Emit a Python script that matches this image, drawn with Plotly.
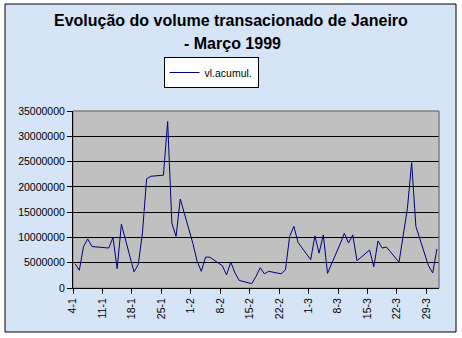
import pandas as pd
import plotly.graph_objects as go

# ---- data ----
dates = [
    "1999-01-04", "1999-01-05", "1999-01-06", "1999-01-07", "1999-01-08",
    "1999-01-11", "1999-01-12", "1999-01-13", "1999-01-14", "1999-01-15",
    "1999-01-18", "1999-01-19", "1999-01-20", "1999-01-21", "1999-01-22",
    "1999-01-25", "1999-01-26", "1999-01-27", "1999-01-28", "1999-01-29",
    "1999-02-01", "1999-02-02", "1999-02-03", "1999-02-04", "1999-02-05",
    "1999-02-08", "1999-02-09", "1999-02-10", "1999-02-11", "1999-02-12",
    "1999-02-15", "1999-02-16", "1999-02-17", "1999-02-18", "1999-02-19",
    "1999-02-22", "1999-02-23", "1999-02-24", "1999-02-25", "1999-02-26",
    "1999-03-01", "1999-03-02", "1999-03-03", "1999-03-04", "1999-03-05",
    "1999-03-08", "1999-03-09", "1999-03-10", "1999-03-11", "1999-03-12",
    "1999-03-15", "1999-03-16", "1999-03-17", "1999-03-18", "1999-03-19",
    "1999-03-22", "1999-03-23", "1999-03-24", "1999-03-25", "1999-03-26",
    "1999-03-29", "1999-03-30", "1999-03-31",
]

vl_acumul = [
    4800000, 3500000, 8200000, 9700000, 8200000,
    8000000, 7900000, 10000000, 3800000, 12600000,
    3200000, 4600000, 10800000, 21600000, 22100000,
    22300000, 32900000, 12800000, 10200000, 17600000,
    8800000, 5300000, 3300000, 6100000, 6100000,
    4400000, 2600000, 5100000, 3000000, 1500000,
    850000, 2300000, 4000000, 2800000, 3300000,
    2800000, 3600000, 10200000, 12200000, 9000000,
    5600000, 10300000, 6900000, 10500000, 2900000,
    8700000, 10800000, 8900000, 10500000, 5400000,
    7500000, 4200000, 9300000, 7900000, 8100000,
    5100000, 10200000, 15800000, 24800000, 12200000,
    4400000, 3000000, 7700000,
]

tick_dates = [
    "1999-01-04", "1999-01-11", "1999-01-18", "1999-01-25", "1999-02-01",
    "1999-02-08", "1999-02-15", "1999-02-22", "1999-03-01", "1999-03-08",
    "1999-03-15", "1999-03-22", "1999-03-29",
]
tick_labels = ["4-1", "11-1", "18-1", "25-1", "1-2", "8-2", "15-2", "22-2",
               "1-3", "8-3", "15-3", "22-3", "29-3"]

series_name = "vl.acumul."
title_line1 = "Evolução do volume transacionado de Janeiro"
title_line2 = "- Março 1999"

# ---- figure ----
W, H = 462, 338
L, R, T, B = 73, 23, 111, 50
pw, ph = W - L - R, H - T - B


def px_x(x):
    return (x - L) / pw


def px_y(y):
    return (H - B - y) / ph


FONT = "Arial, 'Liberation Sans', sans-serif"

fig = go.Figure()
fig.add_trace(go.Scatter(
    x=pd.to_datetime(dates),
    y=vl_acumul,
    mode="lines",
    name=series_name,
    line=dict(color="#000080", width=1),
    xperiod=86400000,
    xperiodalignment="middle",
    showlegend=True,
))

shapes = [
    # chart area (light blue, black border)
    dict(type="rect", xref="paper", yref="paper", layer="below",
         x0=px_x(5), x1=px_x(456), y0=px_y(332), y1=px_y(4),
         fillcolor="#d5e4f6", line=dict(color="black", width=1)),
    # plot area (silver)
    dict(type="rect", xref="paper", yref="paper", layer="below",
         x0=0, x1=1, y0=0, y1=1,
         fillcolor="#c0c0c0", line=dict(color="#808080", width=1)),
    # gray top / right border of the plot area
    dict(type="line", xref="paper", yref="paper", layer="above",
         x0=0, x1=1, y0=1, y1=1, line=dict(color="#808080", width=1)),
    dict(type="line", xref="paper", yref="paper", layer="above",
         x0=1, x1=1, y0=0, y1=1, line=dict(color="#808080", width=1)),
]

annotations = [
    dict(text=title_line1, xref="paper", yref="paper",
         x=px_x(231), y=px_y(20), xanchor="center", yanchor="middle",
         showarrow=False, font=dict(family=FONT, size=16, color="black")),
    dict(text=title_line2, xref="paper", yref="paper",
         x=px_x(232), y=px_y(43), xanchor="center", yanchor="middle",
         showarrow=False, font=dict(family=FONT, size=16, color="black")),
]
# bold via HTML
for a in annotations:
    a["text"] = "<b>" + a["text"] + "</b>"

fig.update_layout(
    width=W, height=H,
    margin=dict(l=L, r=R, t=T, b=B, pad=0),
    paper_bgcolor="white",
    plot_bgcolor="rgba(0,0,0,0)",
    font=dict(family=FONT, size=10.5, color="black"),
    shapes=shapes,
    annotations=annotations,
    showlegend=True,
    legend=dict(
        x=px_x(211), y=px_y(72.5), xanchor="center", yanchor="middle",
        bgcolor="white", bordercolor="black", borderwidth=1,
        font=dict(family=FONT, size=10.5, color="black"),
        itemwidth=30, tracegroupgap=0,
    ),
    xaxis=dict(
        type="date",
        range=["1999-01-04", "1999-04-01"],
        tickmode="array",
        tickvals=pd.to_datetime(tick_dates),
        ticktext=tick_labels,
        tickangle=-90,
        ticks="outside", ticklen=5, tickcolor="black",
        showline=True, linecolor="black", linewidth=1,
        showgrid=False, zeroline=False,
        tickfont=dict(family=FONT, size=10.5, color="black"),
        fixedrange=True,
    ),
    yaxis=dict(
        range=[0, 35000000],
        dtick=5000000,
        tick0=0,
        tickformat="d",
        ticks="outside", ticklen=5, tickcolor="black",
        showline=True, linecolor="black", linewidth=1,
        showgrid=True, gridcolor="black", gridwidth=1,
        zeroline=False,
        tickfont=dict(family=FONT, size=10.5, color="black"),
        fixedrange=True,
    ),
)

fig.write_html("out.html", config={"displayModeBar": False})
